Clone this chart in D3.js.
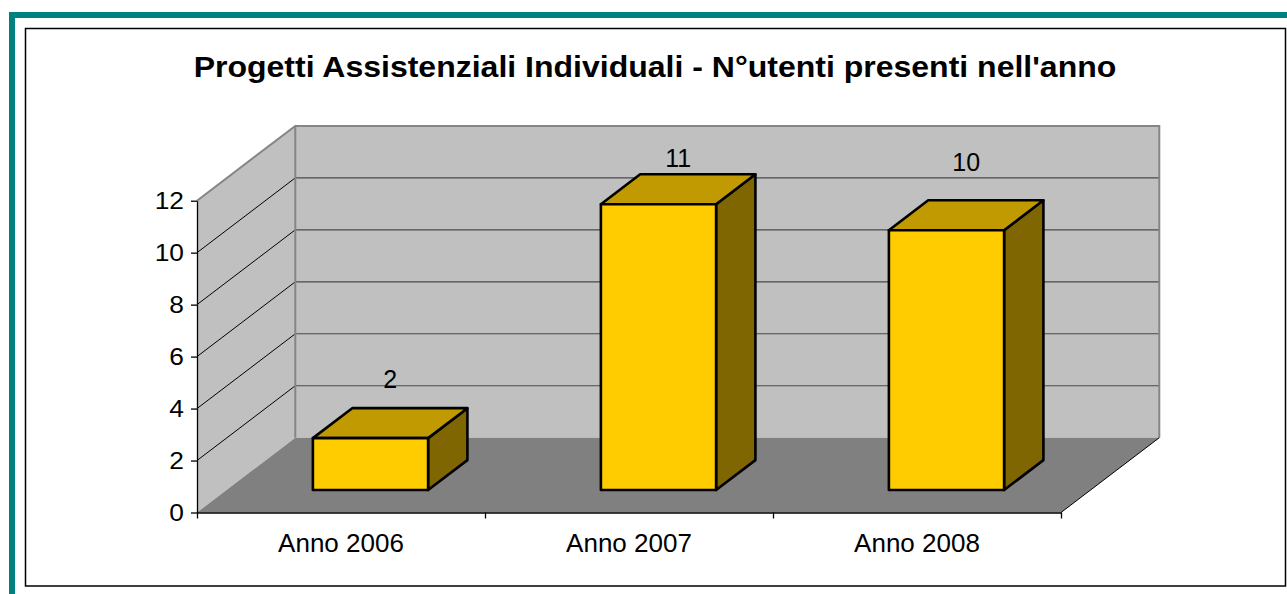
<!DOCTYPE html>
<html>
<head>
<meta charset="utf-8">
<script src="https://cdn.jsdelivr.net/npm/d3@7"></script>
<style>
  html, body { margin: 0; padding: 0; background: #ffffff; }
  svg { display: block; font-family: "Liberation Sans", Arial, sans-serif; }
</style>
</head>
<body>
<svg id="chart" width="1287" height="594"></svg>
<script>
// ---- data ----
const title = "Progetti Assistenziali Individuali - N°utenti presenti nell'anno";
const categories = ["Anno 2006", "Anno 2007", "Anno 2008"];
const values = [2, 11, 10];
const yTicks = [0, 2, 4, 6, 8, 10, 12];

// ---- layout ----
const svg = d3.select("#chart");
const W = 1287, H = 594;
const plot = { left: 197, right: 1061, top: 200.7, bottom: 512.5 };
const depth = { dx: 98.3, dy: -74.8 };
const barFront = 0.3, barBack = 0.7;

function stretch(sel, k) {
  sel.each(function () {
    const L = this.getComputedTextLength();
    d3.select(this).attr("textLength", L * k).attr("lengthAdjust", "spacingAndGlyphs");
  });
}

// frames
svg.append("rect").attr("x", 12).attr("y", 15).attr("width", W + 20).attr("height", H + 20)
  .attr("fill", "none").attr("stroke", "#008080").attr("stroke-width", 6);
svg.append("rect").attr("x", 25.5).attr("y", 28.5).attr("width", 1260).attr("height", 557.5)
  .attr("fill", "#ffffff").attr("stroke", "#000000").attr("stroke-width", 1.5);

// title
svg.append("text").attr("x", 655).attr("y", 77).attr("text-anchor", "middle")
  .attr("font-weight", "bold").attr("font-size", 29.5).attr("fill", "#000")
  .text(title).call(stretch, 1.085);

// scales
const y = d3.scaleLinear().domain([0, 12]).range([plot.bottom, plot.top]);
const x = d3.scaleBand().domain(categories).range([plot.left, plot.right])
  .paddingInner(0.6).paddingOuter(0.3);
const xEdge = d3.scaleLinear().domain([0, categories.length]).range([plot.left, plot.right]);

const dx = depth.dx, dy = depth.dy;
const line = d3.line();

// side wall
svg.append("path").attr("d", line([
  [plot.left, plot.bottom], [plot.left, plot.top],
  [plot.left + dx, plot.top + dy], [plot.left + dx, plot.bottom + dy]]) + "Z")
  .attr("fill", "#C0C0C0");
// back wall
svg.append("path").attr("d", line([
  [plot.left + dx, plot.bottom + dy], [plot.left + dx, plot.top + dy],
  [plot.right + dx, plot.top + dy], [plot.right + dx, plot.bottom + dy]]) + "Z")
  .attr("fill", "#C0C0C0");
// floor
svg.append("path").attr("d", line([
  [plot.left, plot.bottom], [plot.right, plot.bottom],
  [plot.right + dx, plot.bottom + dy], [plot.left + dx, plot.bottom + dy]]) + "Z")
  .attr("fill", "#808080");

// gridlines
const grid = yTicks.filter(v => v > 0 && v < 12);
svg.append("g").selectAll("line").data(grid).join("line")
  .attr("x1", plot.left).attr("y1", d => y(d))
  .attr("x2", plot.left + dx).attr("y2", d => y(d) + dy)
  .attr("stroke", "#000").attr("stroke-width", 1);
svg.append("g").selectAll("line").data(grid).join("line")
  .attr("x1", plot.left + dx).attr("y1", d => y(d) + dy)
  .attr("x2", plot.right + dx).attr("y2", d => y(d) + dy)
  .attr("stroke", "#4a4a4a").attr("stroke-width", 1.2);

// wall edges
const edge = { stroke: "#858585", w: 2 };
svg.append("path").attr("d", line([
  [plot.left, plot.top], [plot.left + dx, plot.top + dy],
  [plot.right + dx, plot.top + dy], [plot.right + dx, plot.bottom + dy]]))
  .attr("fill", "none").attr("stroke", edge.stroke).attr("stroke-width", edge.w);
svg.append("line").attr("x1", plot.left + dx).attr("y1", plot.top + dy)
  .attr("x2", plot.left + dx).attr("y2", plot.bottom + dy)
  .attr("stroke", edge.stroke).attr("stroke-width", edge.w);
// floor right edge
svg.append("line").attr("x1", plot.right).attr("y1", plot.bottom)
  .attr("x2", plot.right + dx).attr("y2", plot.bottom + dy)
  .attr("stroke", "#000").attr("stroke-width", 1);

// axes
const yAxis = svg.append("g").attr("transform", `translate(${plot.left},0)`)
  .call(d3.axisLeft(y).tickValues(yTicks).tickSize(6).tickSizeOuter(0).tickPadding(7));
yAxis.selectAll("text").attr("font-size", 23.5).attr("font-family", "Liberation Sans, Arial, sans-serif").attr("fill", "#000")
  .call(stretch, 1.12);
yAxis.selectAll("line,path").attr("stroke", "#000").attr("stroke-width", 1.3);

const xAxis = svg.append("g").attr("transform", `translate(0,${plot.bottom})`)
  .call(d3.axisBottom(xEdge).tickValues(d3.range(categories.length + 1)).tickFormat("").tickSize(6).tickSizeOuter(0));
xAxis.selectAll("line,path").attr("stroke", "#000").attr("stroke-width", 1.3);

svg.append("g").selectAll("text").data(categories).join("text")
  .attr("x", d => x(d) + x.bandwidth() / 2).attr("y", 552)
  .attr("text-anchor", "middle").attr("font-size", 26).attr("fill", "#000")
  .text(d => d);

// bars
const fx = dx * barFront, fy = dy * barFront;
const bx = dx * barBack, by = dy * barBack;
const bars = svg.append("g").selectAll("g").data(categories.map((c, i) => ({ c, v: values[i] }))).join("g");
const bw = x.bandwidth();
const pts = d => {
  const x0 = x(d.c) + fx, x1 = x0 + bw;
  const y0 = y(0) + fy, y1 = y(d.v) + fy;
  return { x0, x1, y0, y1, ox: bx - fx, oy: by - fy };
};
const barStroke = { stroke: "#000", "stroke-width": 2.6, "stroke-linejoin": "round" };
function styled(sel) { Object.entries(barStroke).forEach(([k, v]) => sel.attr(k, v)); return sel; }
styled(bars.append("path").attr("fill", "#806600").attr("d", d => {
  const p = pts(d);
  return line([[p.x1, p.y0], [p.x1, p.y1], [p.x1 + p.ox, p.y1 + p.oy], [p.x1 + p.ox, p.y0 + p.oy]]) + "Z";
}));
styled(bars.append("path").attr("fill", "#C09A00").attr("d", d => {
  const p = pts(d);
  return line([[p.x0, p.y1], [p.x1, p.y1], [p.x1 + p.ox, p.y1 + p.oy], [p.x0 + p.ox, p.y1 + p.oy]]) + "Z";
}));
styled(bars.append("path").attr("fill", "#FFCC00").attr("d", d => {
  const p = pts(d);
  return line([[p.x0, p.y0], [p.x1, p.y0], [p.x1, p.y1], [p.x0, p.y1]]) + "Z";
}));

// data labels
const labelY = d3.scaleLinear().domain([2, 10, 11]).range([388, 171, 167]);
svg.append("g").selectAll("text").data(categories.map((c, i) => ({ c, v: values[i] }))).join("text")
  .attr("x", d => x(d.c) + bw / 2 + (fx + bx) / 2)
  .attr("y", d => labelY(d.v))
  .attr("text-anchor", "middle").attr("font-size", 25).attr("fill", "#000")
  .text(d => d.v);
</script>
</body>
</html>
